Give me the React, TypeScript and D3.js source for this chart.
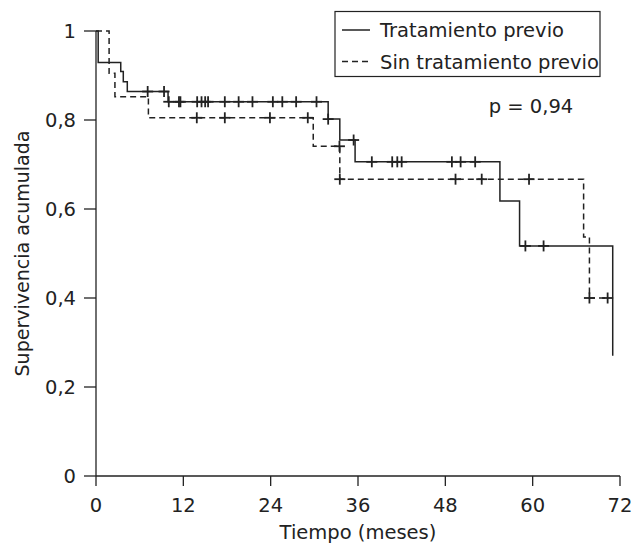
import * as d3 from "d3"

// Kaplan-Meier steps, tratamiento previo (solid)
const prevTimes = [0, 0.3, 3.4, 3.75, 4.3, 9.9, 31.9, 33.5, 35.6, 55.5, 58.2, 71.0]
const prevSurv = [1, 0.929, 0.909, 0.886, 0.864, 0.841, 0.802, 0.755, 0.706, 0.618, 0.517, 0.27]
const prevCensored = [7.1, 9.35, 10.0, 11.4, 11.6, 13.9, 14.5, 15.0, 15.4, 17.7, 19.6, 21.5, 24.3, 25.6, 27.5, 30.3, 31.9, 35.4, 37.9, 40.7, 41.4, 42.0, 48.9, 50.1, 52.1, 59.0, 61.5]

// sin tratamiento previo (dashed)
const noPrevTimes = [0, 1.8, 2.6, 7.2, 29.85, 33.5, 67.0, 67.8, 70.3]
const noPrevSurv = [1, 0.905, 0.852, 0.805, 0.741, 0.667, 0.537, 0.4, 0.4]
const noPrevCensored = [13.85, 17.7, 23.9, 29.1, 33.45, 33.5, 49.4, 53.0, 59.5, 67.8, 70.3]

const xTicks = [0, 12, 24, 36, 48, 60, 72]
const yTicks = [0, 0.2, 0.4, 0.6, 0.8, 1]
const legendLabels = ["Tratamiento previo", "Sin tratamiento previo"]

const W = 635
const H = 547
const ink = "#222"
const font = "'DejaVu Sans', sans-serif"

export default function App() {
  const x = d3.scaleLinear().domain([0, 72]).range([96, 620])
  const y = d3.scaleLinear().domain([0, 1]).range([476, 31])

  const line = d3.line<[number, number]>()
    .x(d => x(d[0]))
    .y(d => y(d[1]))
    .curve(d3.curveStepAfter)

  const survAt = (times: number[], surv: number[], t: number) => {
    let v = surv[0]
    times.forEach((tt, i) => { if (tt <= t) v = surv[i] })
    return v
  }

  const series = [
    { times: prevTimes, surv: prevSurv, cens: prevCensored, dash: null },
    { times: noPrevTimes, surv: noPrevSurv, cens: noPrevCensored, dash: "6,4" },
  ]

  const fmt = (v: number) => (v === 0 || v === 1 ? String(v) : v.toFixed(1).replace(".", ","))

  return (
    <svg width={W} height={H} style={{ position: "absolute", left: 0, top: 0, background: "#fff" }}
      fontFamily={font}>
      <rect width={W} height={H} fill="#fff" />

      {/* y axis */}
      <line x1={x(0)} x2={x(0)} y1={y(1)} y2={y(0)} stroke={ink} strokeWidth={1.3} />
      {yTicks.map(t => (
        <g key={t}>
          <line x1={x(0) - 12} x2={x(0)} y1={y(t)} y2={y(t)} stroke={ink} strokeWidth={1.3} />
          <text x={x(0) - 20} y={y(t)} dy="0.36em" textAnchor="end" fontSize={19.5} fill={ink}>{fmt(t)}</text>
        </g>
      ))}

      {/* x axis */}
      <line x1={x(0)} x2={x(72)} y1={y(0)} y2={y(0)} stroke={ink} strokeWidth={1.3} />
      {xTicks.map(t => (
        <g key={t}>
          <line x1={x(t)} x2={x(t)} y1={y(0)} y2={y(0) + 10} stroke={ink} strokeWidth={1.3} />
          <text x={x(t)} y={505} dy="0.36em" textAnchor="middle" fontSize={19.5} fill={ink}>{t}</text>
        </g>
      ))}
      <text x={(x(0) + x(72)) / 2} y={532} dy="0.36em" textAnchor="middle" fontSize={19.5} fill={ink}>Tiempo (meses)</text>
      <text transform={`translate(22,${(y(0) + y(1)) / 2}) rotate(-90)`} dy="0.36em" textAnchor="middle"
        fontSize={19} fill={ink}>Supervivencia acumulada</text>

      {/* curves */}
      {series.map((s, i) => (
        <g key={i}>
          <path d={line(s.times.map((t, j) => [t, s.surv[j]] as [number, number])) || ""}
            fill="none" stroke={ink} strokeWidth={1.5} strokeDasharray={s.dash || undefined} />
          {s.cens.map((t, j) => {
            const cx = x(t)
            const cy = y(survAt(s.times, s.surv, t))
            return (
              <g key={j} stroke={ink} strokeWidth={1.8}>
                <line x1={cx} x2={cx} y1={cy - 5.5} y2={cy + 5.5} />
                <line x1={cx - 5.5} x2={cx + 5.5} y1={cy} y2={cy} />
              </g>
            )
          })}
        </g>
      ))}

      {/* legend */}
      <rect x={335} y={11.5} width={265} height={65} fill="#fff" stroke={ink} strokeWidth={1.2} />
      {legendLabels.map((lab, i) => (
        <g key={lab}>
          <line x1={342} x2={370} y1={30 + i * 31.5} y2={30 + i * 31.5} stroke={ink} strokeWidth={1.5}
            strokeDasharray={i === 1 ? "6,4" : undefined} />
          <text x={380} y={30 + i * 31.5} dy="0.36em" fontSize={19.5} fill={ink}>{lab}</text>
        </g>
      ))}

      <text x={531} y={106} dy="0.36em" textAnchor="middle" fontSize={19.5} fill={ink}>p = 0,94</text>
    </svg>
  )
}
